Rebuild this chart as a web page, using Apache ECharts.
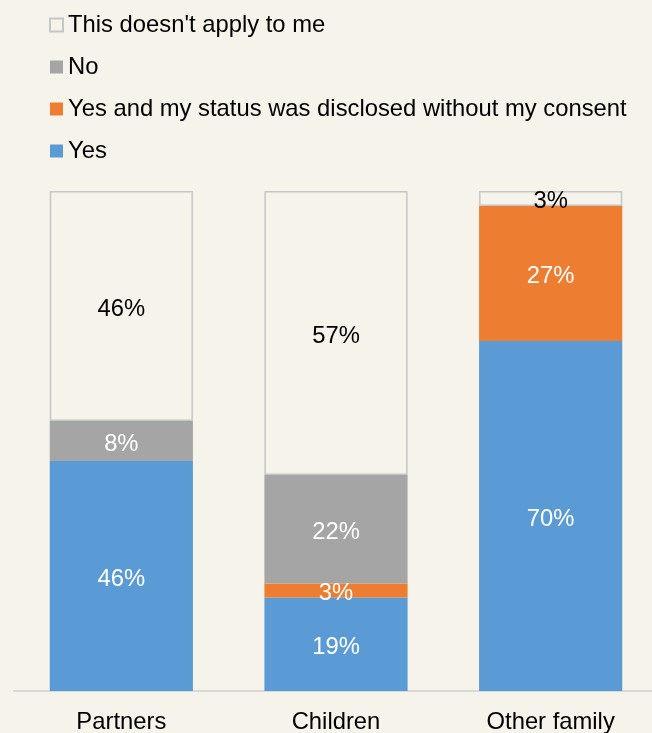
<!DOCTYPE html>
<html>
<head>
<meta charset="utf-8">
<script src="https://cdn.jsdelivr.net/npm/echarts@6/dist/echarts.min.js"></script>
<style>
  html, body { margin: 0; padding: 0; background: #f6f3eb; }
  #chart { width: 652px; height: 733px; }
</style>
</head>
<body>
<div id="chart"></div>
<script>
// categories along the bottom
var categories = ['Partners', 'Children', 'Other family'];

// percentages per category (bottom to top in each bar)
var yesVals       = [46, 18.7, 70];
var disclosedVals = [0, 2.8, 27];
var noVals        = [8, 21.7, 0];
var naVals        = [46, 56.8, 3];

var names = [
  'Yes',
  'Yes and my status was disclosed without my consent',
  'No',
  "This doesn't apply to me"
];

var fontFamily = 'Liberation Sans, Arial, sans-serif';
var fontSize = 23.8;

function pct(p) {
  var v = Math.round(p.value);
  return v === 0 ? '' : v + '%';
}

function barSeries(name, data, color, textColor, border) {
  return {
    name: name,
    type: 'bar',
    stack: 'total',
    barWidth: '66.7%',
    data: data,
    itemStyle: border
      ? { color: '#f6f3eb', borderColor: '#c6c6c6', borderWidth: 1.5 }
      : { color: color },
    label: {
      show: true,
      position: 'inside',
      offset: [0, 3],
      color: textColor,
      fontSize: fontSize,
      fontFamily: fontFamily,
      formatter: pct
    },
    emphasis: { disabled: true }
  };
}

var myCharts = echarts.init(document.getElementById('chart'));
var option = {
  backgroundColor: '#f6f3eb',
  animation: false,
  legend: {
    orient: 'vertical',
    left: 44,
    top: 8,
    icon: 'rect',
    itemWidth: 13,
    itemHeight: 13,
    itemGap: 18,
    textStyle: { fontSize: fontSize, fontFamily: fontFamily, color: '#000' },
    data: [names[3], names[2], names[1], names[0]]
  },
  grid: { left: 14, right: -6, top: 191, bottom: 42, outerBoundsMode: 'none', containLabel: false },
  xAxis: {
    type: 'category',
    data: categories,
    axisLine: { lineStyle: { color: '#d9d9d9', width: 2 } },
    axisTick: { show: false },
    axisLabel: { color: '#000', fontSize: fontSize, fontFamily: fontFamily, margin: 19 }
  },
  yAxis: {
    type: 'value',
    min: 0,
    max: 100,
    show: false
  },
  series: [
    barSeries(names[0], yesVals, '#5b9bd5', '#fff'),
    barSeries(names[1], disclosedVals, '#ed7d31', '#fff'),
    barSeries(names[2], noVals, '#a5a5a5', '#fff'),
    barSeries(names[3], naVals, null, '#000', true)
  ]
};
myCharts.setOption(option);
</script>
</body>
</html>
